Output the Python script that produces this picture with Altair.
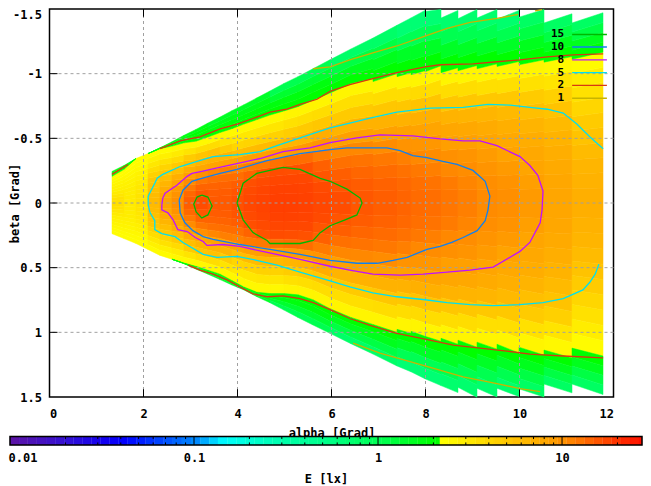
import altair as alt
import pandas as pd

FONT = "DejaVu Sans Mono"
FS = 12

# ---- colour scale ----
cb_domain = [0.01, 0.02, 0.03, 0.04, 0.1, 0.138, 0.2, 0.3, 0.5, 1.0, 1.9, 2.169, 2.17, 5, 8, 10, 15, 20, 30]
cb_range = ["#5a14a8", "#3010d8", "#1400f0", "#0000ff", "#0090ff", "#00ffff", "#00ffd0", "#00ffa8", "#00ff88",
            "#00ff50", "#00ff00", "#00ff00", "#ffff00", "#ffc400", "#ffa400", "#ff8c00", "#ff5500", "#ff2c00", "#ff0000"]
fill_scale = alt.Scale(type="log", domain=cb_domain, range=cb_range, interpolate="rgb")

cb_bands = [.01,.0112,.0125,.014,.0157,.0176,.0197,.0221,.0247,.0277,.031,.0347,.0389,.0436,.0488,.0546,.0612,
            .0685,.0768,.086,.0963,.108,.121,.135,.152,.17,.19,.213,.239,.267,.3,.335,.376,.421,.471,.528,.591,
            .662,.741,.83,.93,1.04,1.17,1.31,1.46,1.64,1.84,2.06,2.17,2.42,2.71,3.04,3.4,3.81,4.27,4.78,5.35,6,
            6.72,7.53,8.43,9.44,10.6,11.8,13.3,14.9,16.6,18.6,20.9,23.4,26.2,27.2]
cb_minor = [.02,.03,.04,.05,.06,.07,.08,.09,.2,.3,.4,.5,.6,.7,.8,.9,2,3,4,5,6,7,8,9,20]
cb_major = [.1,1,10]
cb_labels = [.01,.1,1,10]

# ---- field: column edges in alpha ----
col_edges = [1.33,1.585,1.84,2.096,2.351,2.606,2.862,3.117,3.372,3.628,3.883,4.138,4.415,4.691,4.989,5.287,5.606,
             5.968,6.415,6.883,7.394,7.691,7.989,8.33,8.691,9.096,9.521,9.989,10.521,11.117,11.777]

top_edge = [(.244,.29),(.29,.344),(.344,.382),(.382,.427),(.427,.473),(.473,.523),(.523,.569),(.569,.618),(.618,.664),
            (.664,.714),(.714,.76),(.76,.813),(.813,.866),(.866,.924),(.924,.977),(.977,1.038),(1.038,1.107),(1.107,1.191),
            (1.191,1.275),(1.275,1.374),(1.374,1.431),(1.431,1.489),(1.481,1.496),(1.43,1.489),(1.425,1.496),(1.43,1.496),
            (1.42,1.489),(1.437,1.496),(1.392,1.463),(1.392,1.471)]
top_bound = [(.206,.26),(.26,.344),(.344,.382),(.382,.42),(.42,.44),(.44,.465),(.465,.478),(.478,.51),(.51,.545),
             (.545,.575),(.575,.61),(.61,.645),(.645,.68),(.68,.712),(.712,.745),(.745,.795),(.795,.85),(.85,.924),
             (.924,.962),(.939,1.0),(.977,1.008),(.992,1.023),(1.015,1.061),(1.008,1.046),(1.023,1.063),(1.038,1.076),
             (1.056,1.094),(1.069,1.107),(1.089,1.132),(1.112,1.166)]
bot_edge = [(.237,.275),(.275,.313),(.313,.359),(.359,.405),(.405,.435),(.435,.469),(.469,.511),(.511,.55),(.55,.592),
            (.592,.634),(.634,.672),(.672,.725),(.725,.771),(.771,.828),(.828,.885),(.885,.943),(.943,1.008),(1.008,1.088),
            (1.088,1.168),(1.168,1.26),(1.26,1.305),(1.305,1.359),(1.359,1.412),(1.412,1.466),(1.425,1.502),(1.433,1.5),
            (1.433,1.496),(1.437,1.5),(1.4,1.468),(1.4,1.481)]
bot_bound = [(.237,.275),(.275,.313),(.313,.359),(.359,.405),(.405,.435),(.435,.465),(.465,.49),(.49,.52),(.52,.55),
             (.55,.6),(.6,.65),(.65,.69),(.69,.7),(.7,.7),(.7,.71),(.71,.748),(.748,.817),(.817,.885),(.885,.939),
             (.939,1.0),(.977,1.008),(.992,1.031),(1.031,1.069),(1.046,1.092),(1.061,1.115),(1.076,1.13),(1.092,1.16),
             (1.115,1.176),(1.137,1.198),(1.122,1.183)]

# E [lx] per column, from the axis beta=0 out to the yellow/green edge
E_inner = [
    [3.4,3.3,3.1,2.9,2.7,2.6,2.5,2.4,2.3,2.25],
    [2.9,2.9,2.8,2.8,2.7,2.6,2.5,2.4,2.3,2.25],
    [3.2,3.2,3.1,3.0,2.9,2.7,2.6,2.4,2.3,2.25],
    [5.8,5.6,5.3,5.0,4.7,4.1,3.5,3.0,2.6,2.3],
    [8.2,7.8,7.0,6.2,5.4,4.7,4.0,3.3,2.7,2.3],
    [9.8,9.4,8.8,8.0,6.8,5.5,4.6,3.6,2.9,2.4],
    [14,13,11.5,10,8.4,6.9,5.5,4.5,3.2,2.4],
    [16,15,13.5,11.8,9.6,7.6,6.2,5,3.5,2.4],
    [14.6,14.2,13.5,12.3,10.4,8,6.5,5.2,3.5,2.4],
    [14.5,14.2,13.5,12.5,11,8,6.2,4.4,3.2,2.4],
    [15.5,15,14,12.5,10.8,8,5.5,3.9,3,2.4],
    [16.5,16.2,15.6,13.5,11.3,8.3,5.6,4,3,2.4],
    [17,16.8,16.2,15.3,11.5,8.4,5.8,4.1,3.1,2.4],
    [17.5,17.3,16.7,16,12.2,8.5,5.9,4.1,3.1,2.4],
    [17.5,17.3,16.7,15.7,12.8,8.8,6.2,4.4,3.3,2.5],
    [17.2,17,16.5,15.4,12.6,8.9,6.3,4.6,3.4,2.5],
    [16.5,16.2,15,13.8,11.3,9.2,7,4.8,3.5,2.5],
    [16,15,14,12.3,10.4,8.3,6.3,4.6,3.4,2.5],
    [14.8,14.2,13.2,12,10.3,8.3,6.5,4.6,3.4,2.5],
    [14,13.6,12.8,11.6,10,8.2,6.5,4.8,3.5,2.5],
    [13.4,13,12.2,11,9.4,8.2,6.5,4.8,3.5,2.5],
    [12.8,12.4,11.6,10.3,9.2,8.1,6.7,5.1,3.6,2.5],
    [12.5,12,11,10,9,7.9,6.7,4.9,3.5,2.5],
    [11.8,11.3,10.3,9.6,8.4,7.6,6.4,4.8,3.5,2.5],
    [11,10.5,9.9,9.3,8.3,7.5,6.3,4.8,3.5,2.5],
    [10.1,9.8,9.3,8.7,7.9,7.2,6.2,4.7,3.4,2.5],
    [9.7,9.4,8.8,8.1,7.4,6.8,5.9,4.7,3.4,2.5],
    [8.8,8.4,7.9,7.5,7,6.3,5.4,4.5,3.3,2.5],
    [7.8,7.6,7.3,6.9,6.4,5.8,5.1,4.2,3.2,2.4],
    [6.8,6.5,6.2,5.7,5.1,4.5,3.9,3.3,2.8,2.3],
]
# E [lx] per column in the green outer band
E_outer = [
    [2.0,1.9,1.8,1.7],[2.0,1.9,1.8,1.7],[2.0,1.9,1.8,1.7],
    [2.0,1.9,1.8,1.6],[2.0,1.9,1.8,1.6],[2.0,1.9,1.8,1.6],[2.0,1.9,1.8,1.6],[2.0,1.9,1.8,1.6],
    [2.0,1.8,1.6,1.4],[2.0,1.8,1.6,1.4],[2.0,1.8,1.6,1.4],[2.0,1.8,1.6,1.4],[2.0,1.8,1.6,1.4],
    [2.0,1.7,1.3,1.0],[2.0,1.7,1.3,1.0],[2.0,1.7,1.3,1.0],[2.0,1.7,1.3,1.0],
    [1.9,1.5,1.1,.75],[1.9,1.5,1.1,.75],[1.9,1.5,1.1,.75],
    [1.9,1.4,.95,.65],[1.9,1.4,.95,.65],[1.9,1.4,.95,.65],
    [1.9,1.4,1.0,.7],[1.9,1.4,1.0,.7],[1.9,1.4,1.0,.7],[1.9,1.4,1.0,.7],
    [1.9,1.5,1.1,.8],[1.9,1.5,1.1,.8],[1.9,1.5,1.1,.8],
]

# ---- contours (alpha, beta) ----
c15a = [(3.24,-.061),(3.37,-.046),(3.46,.023),(3.37,.092),(3.24,.115),(3.12,.069),(3.07,.008),(3.14,-.046),(3.24,-.061)]
c15b = [(3.99,0),(4.12,-.153),(4.41,-.229),(4.97,-.275),(5.33,-.26),(5.76,-.191),(5.97,-.168),(6.33,-.107),(6.61,-.038),
        (6.65,0),(6.54,.092),(6.29,.13),(5.97,.176),(5.76,.229),(5.61,.29),(5.33,.313),(4.69,.313),(4.63,.29),(4.33,.229),
        (4.12,.13),(3.99,0)]
c10 = [(2.76,-.023),(2.84,-.099),(3.03,-.168),(3.31,-.198),(3.63,-.229),(3.99,-.26),(4.63,-.328),(5.33,-.382),(5.97,-.412),
       (6.33,-.427),(7.18,-.427),(7.46,-.405),(7.73,-.366),(8.03,-.351),(8.37,-.321),(8.67,-.298),(9.01,-.252),(9.27,-.168),
       (9.37,-.053),(9.33,.053),(9.27,.137),(9.10,.214),(8.80,.267),(8.56,.305),(8.31,.336),(8.03,.359),(7.61,.42),(7.31,.443),
       (6.97,.466),(6.54,.466),(5.97,.443),(5.33,.397),(4.69,.359),(4.05,.321),(3.48,.282),(3.27,.26),(3.05,.214),(2.88,.153),
       (2.78,.076),(2.76,-.023)]
c8 = [(2.39,.015),(2.41,-.038),(2.46,-.076),(2.71,-.137),(2.93,-.206),(3.03,-.229),(3.24,-.244),(3.52,-.267),(3.91,-.298),
      (4.48,-.344),(4.97,-.397),(5.54,-.427),(5.97,-.466),(6.54,-.504),(7.03,-.527),(7.73,-.519),(8.31,-.496),(8.80,-.481),
      (9.16,-.481),(9.52,-.443),(10.01,-.359),(10.22,-.29),(10.39,-.214),(10.50,-.092),(10.48,.053),(10.44,.153),(10.22,.305),
      (10.01,.374),(9.44,.496),(8.95,.519),(8.46,.534),(7.95,.55),(7.46,.557),(6.88,.55),(6.39,.519),(5.97,.489),(5.33,.435),
      (4.63,.382),(4.05,.336),(3.69,.321),(3.35,.328),(3.27,.298),(3.10,.267),(2.93,.221),(2.73,.206),(2.63,.13),(2.52,.076),
      (2.39,.053),(2.39,.015)]
c5 = [(11.78,-.42),(11.50,-.511),(11.22,-.611),(10.93,-.695),(10.59,-.725),(10.22,-.74),(9.80,-.756),(9.33,-.763),(8.80,-.74),
      (8.10,-.733),(7.39,-.702),(6.82,-.656),(6.39,-.618),(5.97,-.58),(5.33,-.504),(4.84,-.443),(4.48,-.397),(4.05,-.374),
      (3.48,-.359),(3.14,-.321),(2.78,-.282),(2.41,-.221),(2.29,-.191),(2.24,-.153),(2.10,-.053),(2.10,.015),(2.14,.076),
      (2.24,.137),(2.24,.206),(2.39,.237),(2.67,.26),(2.84,.305),(3.27,.397),(3.56,.42),(3.99,.412),(4.41,.443),(4.84,.481),
      (5.33,.534),(5.97,.603),(6.39,.649),(6.88,.695),(7.39,.725),(7.99,.748),(8.46,.771),(8.95,.786),(9.44,.794),(10.01,.786),
      (10.50,.771),(10.93,.74),(11.35,.672),(11.50,.611),(11.61,.55),(11.69,.473)]
c2a = [(1.33,-.221),(1.67,-.298)]
c2b = [(2.35,-.42),(2.78,-.481),(3.20,-.511),(3.63,-.573),(4.01,-.611),(4.41,-.664),(4.69,-.702),(5.05,-.725),(5.33,-.763),
       (5.69,-.802),(5.97,-.863),(6.39,-.916),(6.88,-.962),(7.39,-1.008),(7.99,-1.053),(8.31,-1.069),(9.01,-1.076),(9.52,-1.092),
       (10.01,-1.107),(10.59,-1.13),(11.14,-1.145),(11.78,-1.153)]
c2c = [(2.95,.481),(3.20,.519),(3.48,.55),(3.78,.595),(4.05,.649),(4.33,.702),(4.63,.725),(4.97,.718),(5.33,.74),(5.61,.771),
       (5.97,.824),(6.39,.893),(6.82,.947),(7.39,1.008),(7.99,1.053),(8.59,1.099),(9.16,1.122),(9.73,1.145),(10.22,1.168),
       (10.93,1.183),(11.78,1.198)]
c1a = [(5.61,-1.038),(5.97,-1.053),(6.39,-1.107),(6.88,-1.16),(7.39,-1.214),(7.99,-1.29),(8.46,-1.351),(8.95,-1.397),
       (9.52,-1.427),(9.97,-1.458)]
c1b = [(10.33,-1.485),(10.48,-1.496)]
c1c = [(6.46,1.084),(7.03,1.16),(7.99,1.26),(8.80,1.344),(9.52,1.397),(10.01,1.435),(10.44,1.458)]

levels = ["15", "10", "8", "5", "2", "1"]
level_colors = ["#00b800", "#1080f0", "#c010ff", "#00e0f0", "#d83810", "#c8b400"]
contours = [("15", c15a), ("15", c15b), ("10", c10), ("8", c8), ("5", c5), ("2", c2a), ("2", c2b), ("2", c2c),
            ("1", c1a), ("1", c1b), ("1", c1c)]

legend_beta = [-1.303, -1.206, -1.107, -1.008, -.909, -.81]
x_ticks = [0, 2, 4, 6, 8, 10, 12]
y_ticks = [-1.5, -1, -.5, 0, .5, 1, 1.5]

# ---- tables ----
cells = []
for c in range(30):
    xl, xr = col_edges[c], col_edges[c + 1]
    for sign, edge, bound in ((-1, top_edge[c], top_bound[c]), (1, bot_edge[c], bot_bound[c])):
        for r, e in enumerate(E_inner[c]):
            cid = f"{c}_{sign}_i{r}"
            for x, b in ((xl, bound[0]), (xr, bound[1])):
                cells.append(dict(cell=cid, alpha=x, b0=sign * b * r / 10, b1=sign * b * (r + 1) / 10, E=e))
        if edge[0] - bound[0] < .002 and edge[1] - bound[1] < .002:
            continue
        for r, e in enumerate(E_outer[c]):
            cid = f"{c}_{sign}_o{r}"
            for x, b, t in ((xl, bound[0], edge[0]), (xr, bound[1], edge[1])):
                cells.append(dict(cell=cid, alpha=x, b0=sign * (b + (t - b) * r / 4), b1=sign * (b + (t - b) * (r + 1) / 4), E=e))
cells = pd.DataFrame(cells)

rows = []
for k, (lv, pts) in enumerate(contours):
    for i, (a, b) in enumerate(pts):
        rows.append(dict(line=k, level=lv, i=i, alpha=a, beta=b))
lines = pd.DataFrame(rows)

x_scale = alt.Scale(domain=[0, 12], nice=False, zero=False)
y_scale = alt.Scale(domain=[-1.5, 1.5], reverse=True, nice=False, zero=False)
line_color = alt.Color("level:N", scale=alt.Scale(domain=levels, range=level_colors), legend=None)
axis_txt = dict(labelFont=FONT, labelFontSize=FS, labelFontWeight="bold", labelColor="black",
                titleFont=FONT, titleFontSize=FS, titleFontWeight="bold", titleColor="black",
                grid=False, ticks=False, domain=False, labelOverlap=False)
x_axis = alt.Axis(values=x_ticks, title="alpha [Grad]", labelPadding=11, titlePadding=8, labelAngle=0, **axis_txt)
y_axis = alt.Axis(values=y_ticks, title="beta [Grad]", labelPadding=8, titleX=-35, titleBaseline="middle",
                  labelBaseline={"expr": "datum.value === -1.5 ? 'top' : 'middle'"},
                  labelExpr="'' + datum.value", **axis_txt)
cb_axis = alt.Axis(values=cb_labels, orient="bottom", offset=48, title="E [lx]", format="~g",
                   labelPadding=7, titlePadding=10, labelFlush=True, labelFlushOffset=2, labelAngle=0, **axis_txt)


def X(field):
    return alt.X(field, scale=x_scale, axis=x_axis)


def Y(field):
    return alt.Y(field, scale=y_scale, axis=y_axis)


heat = alt.Chart(cells).mark_area(strokeWidth=0.5).encode(
    x=X("alpha:Q"),
    y=Y("b0:Q"),
    y2="b1:Q",
    detail="cell:N",
    fill=alt.Fill("E:Q", scale=fill_scale, legend=None),
    stroke=alt.Stroke("E:Q", scale=fill_scale, legend=None),
)

grid_x = alt.Chart(pd.DataFrame({"a": x_ticks[1:-1]})).mark_rule(color="#a0a0a0", strokeDash=[3, 3], strokeWidth=1).encode(
    x=X("a:Q"))
grid_y = alt.Chart(pd.DataFrame({"b": y_ticks[1:-1]})).mark_rule(color="#a0a0a0", strokeDash=[3, 3], strokeWidth=1).encode(
    y=Y("b:Q"))

tick_top = alt.Chart(pd.DataFrame({"a": x_ticks[1:-1], "b0": -1.5, "b1": -1.44})).mark_rule(color="black").encode(
    x=X("a:Q"), y=Y("b0:Q"), y2="b1:Q")
tick_bot = alt.Chart(pd.DataFrame({"a": x_ticks[1:-1], "b0": 1.5, "b1": 1.44})).mark_rule(color="black").encode(
    x=X("a:Q"), y=Y("b0:Q"), y2="b1:Q")
tick_left = alt.Chart(pd.DataFrame({"b": y_ticks[1:-1], "a0": 0, "a1": .17})).mark_rule(color="black").encode(
    y=Y("b:Q"), x=X("a0:Q"), x2="a1:Q")

contour_lines = alt.Chart(lines).mark_line(strokeWidth=1.3).encode(
    x=X("alpha:Q"), y=Y("beta:Q"), detail="line:N", order="i:Q", color=line_color)

key = pd.DataFrame({"level": levels, "beta": legend_beta, "a0": 11.12, "a1": 11.86, "at": 10.95})
key_lines = alt.Chart(key).mark_rule(strokeWidth=1.3).encode(
    x=X("a0:Q"), x2="a1:Q", y=Y("beta:Q"), color=line_color)
key_text = alt.Chart(key).mark_text(align="right", baseline="middle", font=FONT, fontSize=11, fontWeight="bold", color="black").encode(
    x=X("at:Q"), y=Y("beta:Q"), text="level:N")

main = alt.layer(heat, grid_x, grid_y, tick_top, tick_bot, tick_left, contour_lines, key_lines, key_text)

# ---- colour box ----
cb_x = alt.Scale(type="log", domain=[.01, 27.2], range=[-39.5, 592.5], nice=False)
cb_y = alt.Scale(domain=[0, 1], range=[436, 427.5], nice=False, zero=False)


def CX(field):
    return alt.X(field, scale=cb_x, axis=cb_axis)


def CY(field):
    return alt.Y(field, scale=cb_y, axis=None)


bands = pd.DataFrame({"E0": cb_bands[:-1], "E1": cb_bands[1:], "v0": 0, "v1": 1})
cb_rect = alt.Chart(bands).mark_rect(strokeWidth=0.3).encode(
    x=CX("E0:Q"), x2="E1:Q", y=CY("v0:Q"), y2="v1:Q",
    fill=alt.Fill("E0:Q", scale=fill_scale, legend=None),
    stroke=alt.Stroke("E0:Q", scale=fill_scale, legend=None),
)
minor = pd.DataFrame({"E": cb_minor})
cb_low = alt.Chart(minor.assign(v0=0.0, v1=.3)).mark_rule(color="black").encode(
    x=CX("E:Q"), y=CY("v0:Q"), y2="v1:Q")
cb_up = alt.Chart(minor.assign(v0=.7, v1=1.0)).mark_rule(color="black").encode(
    x=CX("E:Q"), y=CY("v0:Q"), y2="v1:Q")
cb_maj = alt.Chart(pd.DataFrame({"E": cb_major, "v0": 0.0, "v1": 1.0})).mark_rule(color="black").encode(
    x=CX("E:Q"), y=CY("v0:Q"), y2="v1:Q")
cb_frame = alt.Chart(pd.DataFrame({"E0": [.01], "E1": [27.2], "v0": [0], "v1": [1]})).mark_rect(
    fillOpacity=0, stroke="black", strokeWidth=1.5).encode(
    x=CX("E0:Q"), x2="E1:Q", y=CY("v0:Q"), y2="v1:Q")

colorbox = alt.layer(cb_rect, cb_low, cb_up, cb_maj, cb_frame)

chart = alt.layer(main, colorbox).resolve_scale(x="independent", y="independent").properties(
    width=564, height=388,
    autosize=alt.AutoSizeParams(type="none"),
    padding={"left": 41.5, "top": 1, "right": 29.5, "bottom": 88},
    background="white",
).configure_view(stroke="black", strokeWidth=1.5)

chart.save("out.html", embed_options={"renderer": "svg", "actions": False})
